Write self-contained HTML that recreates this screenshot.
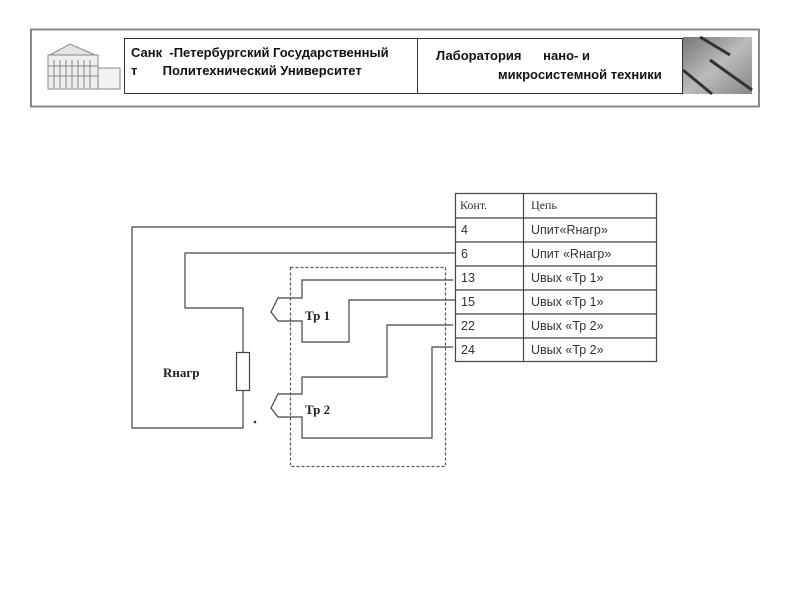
<!DOCTYPE html>
<html><head><meta charset="utf-8"><style>
body{margin:0;width:800px;height:600px;background:#fff;overflow:hidden;position:relative;font-family:"Liberation Sans",sans-serif}
.a{position:absolute}
</style></head><body>
<svg class="a" style="left:0;top:0" width="800" height="600" xmlns="http://www.w3.org/2000/svg">
<rect x="31" y="29.5" width="728" height="77" fill="none" stroke="#888" stroke-width="2"/>
<rect x="124.5" y="38.5" width="558" height="55" fill="none" stroke="#333" stroke-width="1"/>
<line x1="417.5" y1="38" x2="417.5" y2="94" stroke="#333"/>
<g stroke="#888" fill="none" stroke-width="1">
<rect x="48" y="55" width="50" height="34" fill="#eee"/>
<polygon points="50,55 70,44 95,55" fill="#e4e4e4"/>
<rect x="98" y="68" width="22" height="21" fill="#f2f2f2"/>
<path d="M54,60v28M60,60v28M66,60v28M72,60v28M78,60v28M84,60v28M90,60v28"/>
<path d="M48,66h50M48,76h50"/>
</g>
<defs><linearGradient id="g" x1="0" y1="0" x2="1" y2="1"><stop offset="0" stop-color="#777"/><stop offset=".5" stop-color="#bbb"/><stop offset="1" stop-color="#888"/></linearGradient></defs>
<rect x="683" y="37" width="69" height="57" fill="url(#g)"/>
<g stroke="#333" stroke-width="3"><line x1="700" y1="37" x2="730" y2="55"/><line x1="710" y1="60" x2="752" y2="90"/><line x1="683" y1="70" x2="712" y2="94"/></g>
<g stroke="#444" stroke-width="1.2" fill="none">
<rect x="455.5" y="193.5" width="201" height="168"/>
<line x1="523.5" y1="193" x2="523.5" y2="362"/>
<path d="M455,218h202M455,242h202M455,266h202M455,290h202M455,314h202M455,338h202"/>
</g>
<g stroke="#444" stroke-width="1.2" fill="none">
<path d="M456,227H132V428H243V391"/>
<path d="M456,253H185V308H243V352"/>
<rect x="236.5" y="352.5" width="13" height="38"/>
<path d="M453,280H302V298H278L271,312L278,321H302V342H349V300H456"/>
<path d="M453,325H387V377H302V394H278L271,408L278,417H302V438H432V347H453"/>
</g>
<rect x="290.5" y="267.5" width="155" height="199" fill="none" stroke="#555" stroke-width="1.2" stroke-dasharray="3,2"/>
<circle cx="255" cy="422" r="1.3" fill="#333"/>
</svg>
<div class="a" style="left:131px;top:44px;font-size:13px;font-weight:bold;color:#111;line-height:18px">Санк&nbsp; -Петербургский Государственный<br>т&nbsp;&nbsp;&nbsp;&nbsp;&nbsp;&nbsp; Политехнический Университет</div>
<div class="a" style="left:436px;top:48px;font-size:13px;font-weight:bold;color:#111">Лаборатория&nbsp;&nbsp;&nbsp;&nbsp;&nbsp; нано- и</div>
<div class="a" style="left:498px;top:67px;font-size:13px;font-weight:bold;color:#111">микросистемной техники</div>
<div class="a" style="left:460px;top:198px;font-size:12px;font-family:'Liberation Serif',serif;color:#333">Конт.</div>
<div class="a" style="left:531px;top:198px;font-size:12px;font-family:'Liberation Serif',serif;color:#333">Цепь</div>
<div class="a" style="left:461px;top:218px;font-size:12.5px;color:#333;line-height:24px">4<br>6<br>13<br>15<br>22<br>24</div>
<div class="a" style="left:531px;top:218px;font-size:12.5px;color:#333;line-height:24px">Uпит«Rнагр»<br>Uпит «Rнагр»<br>Uвых «Тр 1»<br>Uвых «Тр 1»<br>Uвых «Тр 2»<br>Uвых «Тр 2»</div>
<div class="a" style="left:163px;top:365px;font-size:13px;font-weight:bold;font-family:'Liberation Serif',serif;color:#222">Rнагр</div>
<div class="a" style="left:305px;top:308px;font-size:13px;font-weight:bold;font-family:'Liberation Serif',serif;color:#222">Тр 1</div>
<div class="a" style="left:305px;top:402px;font-size:13px;font-weight:bold;font-family:'Liberation Serif',serif;color:#222">Тр 2</div>
</body></html>
